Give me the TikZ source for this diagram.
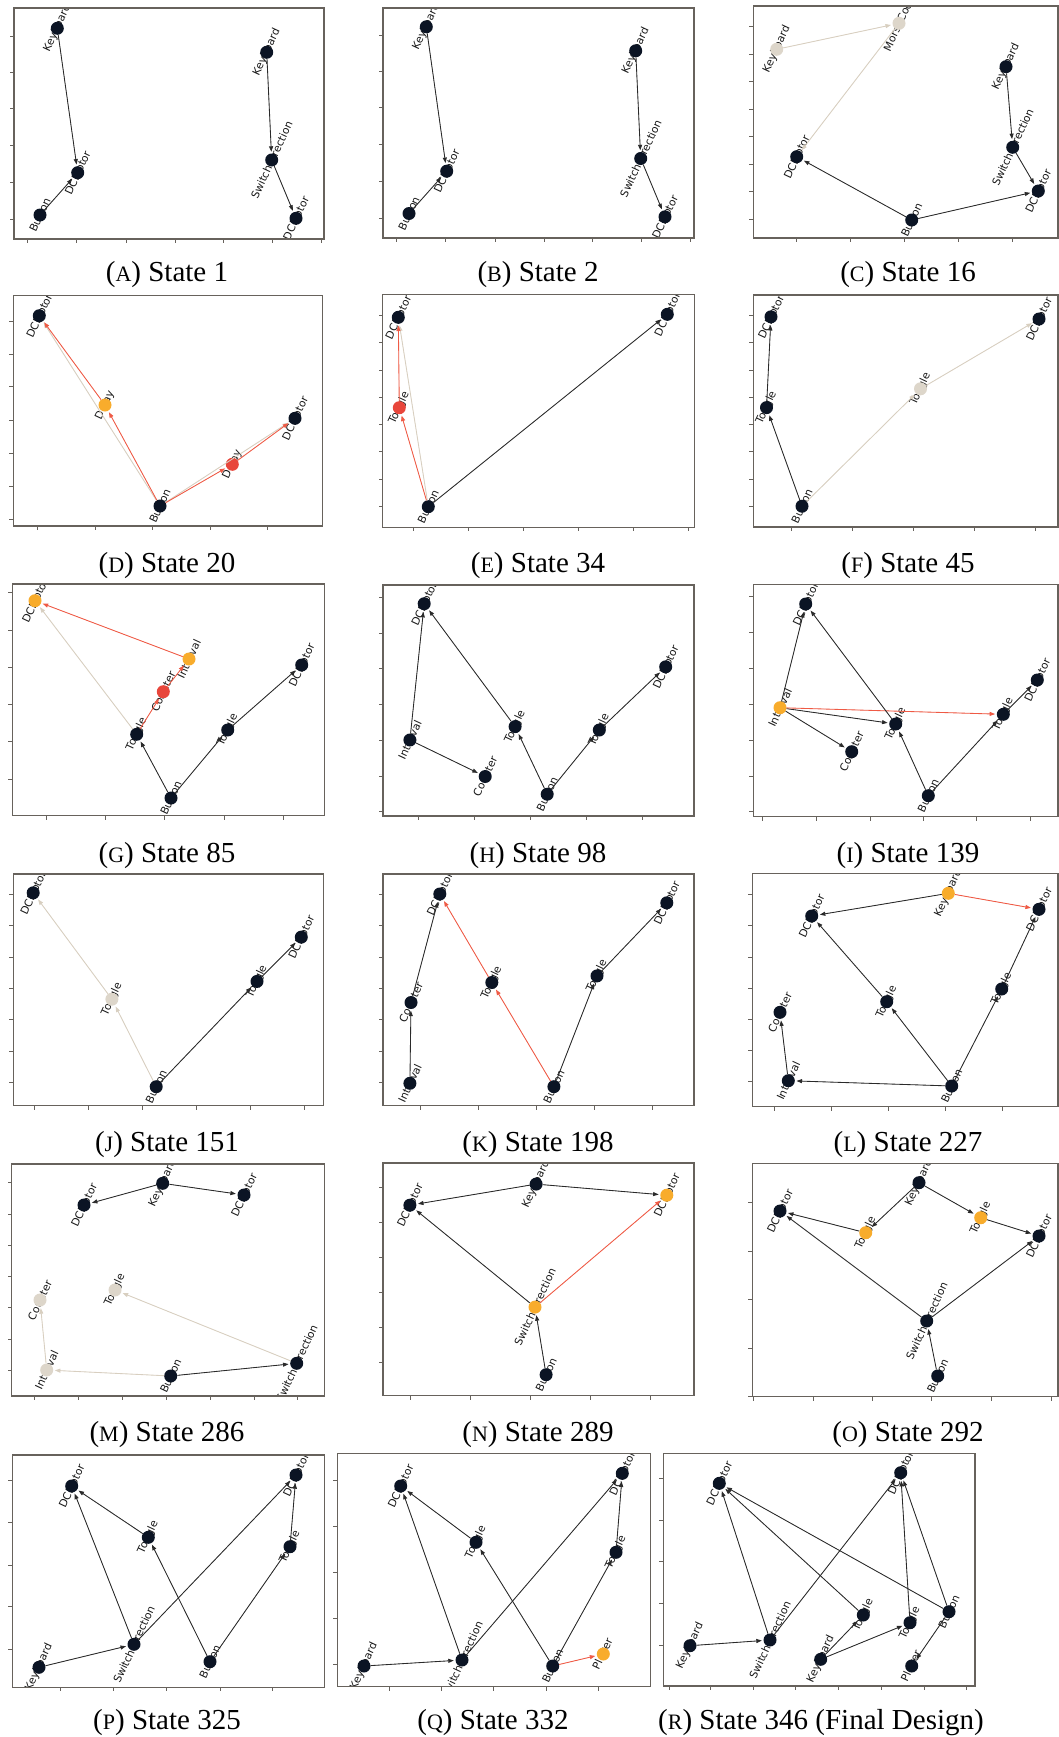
\documentclass[tikz,border=0pt]{standalone}
\usepackage{fontspec}
\newfontfamily\labfont{DejaVu Sans}
\newfontfamily\capfont{Liberation Serif}
\usetikzlibrary{arrows.meta}
\definecolor{nblk}{HTML}{0B1424}
\definecolor{norg}{HTML}{F8AC2C}
\definecolor{nred}{HTML}{E8463B}
\definecolor{nfad}{HTML}{DDD6CA}
\definecolor{eblk}{HTML}{2A2A2A}
\definecolor{ered}{HTML}{EF5A45}
\definecolor{efad}{HTML}{D8CFC0}
\definecolor{frmc}{HTML}{67625C}
\tikzset{
  lab/.style={font=\labfont\fontsize{10.7}{10.7}\selectfont, text=black!90, rotate=65, inner sep=0pt, anchor=center},
  dotnode/.style={circle, minimum size=13pt, inner sep=0pt, draw=none},
  nb/.style={dotnode, fill=nblk},
  no/.style={dotnode, fill=norg},
  nr/.style={dotnode, fill=nred},
  nf/.style={dotnode, fill=nfad},
  edg/.style={line width=0.85pt, shorten >=1.5pt, -{Triangle[length=5.5pt,width=4pt]}},
  eb/.style={edg, draw=eblk, fill=eblk},
  er/.style={edg, draw=ered, fill=ered},
  ef/.style={edg, draw=efad, fill=efad},
  frm/.style={draw=frmc, line width=1.2pt},
  tck/.style={draw=frmc, line width=0.9pt},
  captxt/.style={font=\capfont\fontsize{29}{29}\selectfont, anchor=base, inner sep=0pt}
}
\newcommand\gn[5]{\node[lab] (#1-l) at (#2,#3) {#5};\node[#4] (#1) at (#2,#3) {};}
\newcommand\frameticks[6]{%
  \draw[frm] (#1,#2) rectangle (#3,#4);
  \foreach \yy in {#5} {\draw[tck] (#1,\yy) -- ++(-4,0);}
  \foreach \xx in {#6} {\draw[tck] (\xx,#4) -- ++(0,4);}
}
\newcommand\sca[1]{{\fontsize{22}{22}\selectfont #1}}
\begin{document}
\begin{tikzpicture}[x=1pt,y=-1pt]
\useasboundingbox[fill=white] (0,0) rectangle (1059,1737);

% ---------------- A
\begin{scope}\clip (14,8) rectangle (324,239);
\gn{A1}{57.3}{28.3}{nb}{Keyboard}
\gn{A2}{77.7}{172.7}{nb}{DCMotor}
\gn{A3}{40}{215}{nb}{Button}
\gn{A4}{266.7}{52.3}{nb}{Keyboard}
\gn{A5}{271.7}{160}{nb}{SwitchDirection}
\gn{A6}{296}{218.3}{nb}{DCMotor}
\draw[eb] (A1) -- (A2);
\draw[eb] (A3) -- (A2);
\draw[eb] (A4) -- (A5);
\draw[eb] (A5) -- (A6);
\end{scope}
\frameticks{14}{8}{324}{239}{36.7,72.7,108.7,145.7,182.3,219.3}{27.7,76.7,126,175,223.3,272.7,321.7}
\node[captxt] (capA) at (167,281) {(\sca{A}) State 1};

% ---------------- B
\begin{scope}\clip (383,8) rectangle (694,238);
\gn{B1}{426.3}{26.8}{nb}{Keyboard}
\gn{B2}{446.7}{171.2}{nb}{DCMotor}
\gn{B3}{409}{213.5}{nb}{Button}
\gn{B4}{635.7}{50.8}{nb}{Keyboard}
\gn{B5}{640.7}{158.5}{nb}{SwitchDirection}
\gn{B6}{665}{216.8}{nb}{DCMotor}
\draw[eb] (B1) -- (B2);
\draw[eb] (B3) -- (B2);
\draw[eb] (B4) -- (B5);
\draw[eb] (B5) -- (B6);
\end{scope}
\frameticks{383}{8}{694}{238}{35.7,71.7,107.7,144.7,181.3,218.3}{396.7,445.7,495,544,592.3,641.7,690.7}
\node[captxt] (capB) at (538,281) {(\sca{B}) State 2};

% ---------------- C
\begin{scope}\clip (753.3,6) rectangle (1058,238);
\gn{C1}{776.7}{49.3}{nf}{Keyboard}
\gn{C2}{899}{23.3}{nf}{MorseCode}
\gn{C3}{796.7}{156.7}{nb}{DCMotor}
\gn{C4}{1006}{66.7}{nb}{Keyboard}
\gn{C5}{1012.7}{147.3}{nb}{SwitchDirection}
\gn{C6}{1038.3}{191}{nb}{DCMotor}
\gn{C7}{911.7}{220}{nb}{Button}
\draw[ef] (C1) -- (C2);
\draw[ef] (C2) -- (C3);
\draw[eb] (C7) -- (C3);
\draw[eb] (C7) -- (C6);
\draw[eb] (C4) -- (C5);
\draw[eb] (C5) -- (C6);
\end{scope}
\frameticks{753.3}{6}{1058}{238}{26.7,54.3,81.7,109.3,136.7,164,191.7,219.3}{796,850,904,958.3,1012.7}
\node[captxt] (capC) at (908,281) {(\sca{C}) State 16};

% ---------------- D
\begin{scope}\clip (13.3,295.7) rectangle (322.7,526);
\gn{D1}{39.3}{315.7}{nb}{DCMotor}
\gn{D2}{105}{405}{no}{Delay}
\gn{D3}{160}{506}{nb}{Button}
\gn{D4}{232.3}{464.3}{nr}{Delay}
\gn{D5}{295}{418.3}{nb}{DCMotor}
\draw[ef] (D3) -- (D1);
\draw[ef] (D3) -- (D5);
\draw[er] (D3) -- (D2);
\draw[er] (D2) -- (D1);
\draw[er] (D3) -- (D4);
\draw[er] (D4) -- (D5);
\end{scope}
\frameticks{13.3}{295.7}{322.7}{526}{321,354,386.7,420,453.3,486,519.3}{37.3,95,152.7,210,267.3}
\node[captxt] (capD) at (167,572) {(\sca{D}) State 20};

% ---------------- E
\begin{scope}\clip (382.7,294.3) rectangle (694.3,527.3);
\gn{E1}{398.3}{317.3}{nb}{DCMotor}
\gn{E2}{399.3}{407.7}{nr}{Toggle}
\gn{E3}{428.3}{506.7}{nb}{Button}
\gn{E4}{667.3}{314.3}{nb}{DCMotor}
\draw[ef] (E3) -- (E1);
\draw[er] (E3) -- (E2);
\draw[er] (E2) -- (E1);
\draw[eb] (E3) -- (E4);
\end{scope}
\frameticks{382.7}{294.3}{694.3}{527.3}{315.7,342.7,370,397.3,424.3,451.7,479,506}{413.3,468.3,523.3,578.3,633.3,688.3}
\node[captxt] (capE) at (538,572) {(\sca{E}) State 34};

% ---------------- F
\begin{scope}\clip (753.3,295) rectangle (1058,527);
\gn{F1}{771}{316.8}{nb}{DCMotor}
\gn{F2}{766.5}{407.6}{nb}{Toggle}
\gn{F3}{802}{506.2}{nb}{Button}
\gn{F4}{920.5}{388.8}{nf}{Toggle}
\gn{F5}{1039}{319}{nb}{DCMotor}
\draw[ef] (F3) -- (F4);
\draw[ef] (F4) -- (F5);
\draw[eb] (F3) -- (F2);
\draw[eb] (F2) -- (F1);
\end{scope}
\frameticks{753.3}{295}{1058}{527}{315.7,342.7,370,397.3,424.3,451.7,479,506}{791,852,913,974,1035}
\node[captxt] (capF) at (908,572) {(\sca{F}) State 45};

% ---------------- G
\begin{scope}\clip (12.3,584) rectangle (324.3,815.7);
\gn{G1}{35}{600.7}{no}{DCMotor}
\gn{G2}{189}{659}{no}{Interval}
\gn{G3}{163.3}{691.7}{nr}{Counter}
\gn{G4}{136.7}{734.3}{nb}{Toggle}
\gn{G5}{171}{798}{nb}{Button}
\gn{G6}{227.7}{730}{nb}{Toggle}
\gn{G7}{301.7}{665}{nb}{DCMotor}
\draw[ef] (G4) -- (G1);
\draw[er] (G4) -- (G3);
\draw[er] (G3) -- (G2);
\draw[er] (G2) -- (G1);
\draw[eb] (G5) -- (G4);
\draw[eb] (G5) -- (G6);
\draw[eb] (G6) -- (G7);
\end{scope}
\frameticks{12.3}{584}{324.3}{815.7}{592.7,630,667.3,704.3,741.7,779}{46,105.3,164.7,224.3,283.3}
\node[captxt] (capG) at (167,862) {(\sca{G}) State 85};

% ---------------- H
\begin{scope}\clip (383,585) rectangle (694,816);
\gn{H1}{424.2}{603.7}{nb}{DCMotor}
\gn{H2}{409.9}{740}{nb}{Interval}
\gn{H3}{485.2}{776.5}{nb}{Counter}
\gn{H4}{515.1}{726.6}{nb}{Toggle}
\gn{H5}{547.2}{794.2}{nb}{Button}
\gn{H6}{599.3}{730}{nb}{Toggle}
\gn{H7}{665.7}{666.8}{nb}{DCMotor}
\draw[eb] (H2) -- (H1);
\draw[eb] (H2) -- (H3);
\draw[eb] (H4) -- (H1);
\draw[eb] (H5) -- (H4);
\draw[eb] (H5) -- (H6);
\draw[eb] (H6) -- (H7);
\end{scope}
\frameticks{383}{585}{694}{816}{597,633,668,704,740,776,811}{418,474,530,586,642}
\node[captxt] (capH) at (538,862) {(\sca{H}) State 98};

% ---------------- I
\begin{scope}\clip (753.3,584.3) rectangle (1058,816.7);
\gn{I1}{805.7}{604}{nb}{DCMotor}
\gn{I2}{780}{707.7}{no}{Interval}
\gn{I3}{851.7}{751.7}{nb}{Counter}
\gn{I4}{895.7}{724}{nb}{Toggle}
\gn{I5}{928.3}{795.7}{nb}{Button}
\gn{I6}{1003.3}{714.3}{nb}{Toggle}
\gn{I7}{1037.3}{680}{nb}{DCMotor}
\draw[eb] (I2) -- (I1);
\draw[eb] (I2) -- (I3);
\draw[eb] (I2) -- (I4);
\draw[er] (I2) -- (I6);
\draw[eb] (I4) -- (I1);
\draw[eb] (I5) -- (I4);
\draw[eb] (I5) -- (I6);
\draw[eb] (I6) -- (I7);
\end{scope}
\frameticks{753.3}{584.3}{1058}{816.7}{596.7,632.3,668.3,704.3,740.3,776,811.7}{762.7,816.7,870,923.3,976.7,1030.7}
\node[captxt] (capI) at (908,862) {(\sca{I}) State 139};

% ---------------- J
\begin{scope}\clip (13.3,874) rectangle (323.4,1105.5);
\gn{J1}{33.2}{892.8}{nb}{DCMotor}
\gn{J2}{111.9}{999.2}{nf}{Toggle}
\gn{J3}{156.2}{1086.7}{nb}{Button}
\gn{J4}{257}{981.4}{nb}{Toggle}
\gn{J5}{301.3}{937.1}{nb}{DCMotor}
\draw[ef] (J3) -- (J2);
\draw[ef] (J2) -- (J1);
\draw[eb] (J3) -- (J4);
\draw[eb] (J4) -- (J5);
\end{scope}
\frameticks{13.3}{874}{323.4}{1105.5}{894,925,957,988,1019,1051,1082}{34,88,142,196,250,304}
\node[captxt] (capJ) at (167,1151) {(\sca{J}) State 151};

% ---------------- K
\begin{scope}\clip (383,874) rectangle (694,1105.5);
\gn{K1}{439.8}{894}{nb}{DCMotor}
\gn{K2}{411}{1002.5}{nb}{Counter}
\gn{K3}{409.9}{1083.3}{nb}{Interval}
\gn{K4}{491.8}{982.5}{nb}{Toggle}
\gn{K5}{553.9}{1086.7}{nb}{Button}
\gn{K6}{597}{975.9}{nb}{Toggle}
\gn{K7}{666.8}{902.8}{nb}{DCMotor}
\draw[eb] (K3) -- (K2);
\draw[eb] (K2) -- (K1);
\draw[er] (K5) -- (K4);
\draw[er] (K4) -- (K1);
\draw[eb] (K5) -- (K6);
\draw[eb] (K6) -- (K7);
\end{scope}
\frameticks{383}{874}{694}{1105.5}{894,925,957,988,1019,1051,1082}{420,478,536,594,652}
\node[captxt] (capK) at (538,1151) {(\sca{K}) State 198};

% ---------------- L
\begin{scope}\clip (752.3,873.3) rectangle (1058,1106.7);
\gn{L1}{948.3}{893.3}{no}{Keyboard}
\gn{L2}{811.7}{916}{nb}{DCMotor}
\gn{L3}{1039}{909.3}{nb}{DCMotor}
\gn{L4}{886.7}{1001.7}{nb}{Toggle}
\gn{L5}{1001.7}{989}{nb}{Toggle}
\gn{L6}{780}{1012.3}{nb}{Counter}
\gn{L7}{788.3}{1080.7}{nb}{Interval}
\gn{L8}{951.7}{1086}{nb}{Button}
\draw[eb] (L1) -- (L2);
\draw[er] (L1) -- (L3);
\draw[eb] (L4) -- (L2);
\draw[eb] (L8) -- (L4);
\draw[eb] (L8) -- (L5);
\draw[eb] (L5) -- (L3);
\draw[eb] (L8) -- (L7);
\draw[eb] (L7) -- (L6);
\end{scope}
\frameticks{752.3}{873.3}{1058}{1106.7}{894.3,925.7,957.3,988.3,1019.3,1050.7,1081.7}{774,831,888.3,945.7,1002.7}
\node[captxt] (capL) at (908,1151) {(\sca{L}) State 227};

% ---------------- M
\begin{scope}\clip (11.7,1164) rectangle (324.3,1396);
\gn{M1}{162.7}{1183.3}{nb}{Keyboard}
\gn{M2}{84}{1205}{nb}{DCMotor}
\gn{M3}{244}{1195}{nb}{DCMotor}
\gn{M4}{40}{1300}{nf}{Counter}
\gn{M5}{115}{1290}{nf}{Toggle}
\gn{M6}{46.7}{1370}{nf}{Interval}
\gn{M7}{170.7}{1376}{nb}{Button}
\gn{M8}{296.7}{1363.3}{nb}{SwitchDirection}
\draw[ef] (M7) -- (M6);
\draw[ef] (M6) -- (M4);
\draw[ef] (M8) -- (M5);
\draw[eb] (M1) -- (M2);
\draw[eb] (M1) -- (M3);
\draw[eb] (M7) -- (M8);
\end{scope}
\frameticks{11.7}{1164}{324.3}{1396}{1182.7,1214,1245,1276,1307.3,1339.3,1370.7}{34,78.3,122.3,166,210,254,297.7}
\node[captxt] (capM) at (167,1441) {(\sca{M}) State 286};

% ---------------- N
\begin{scope}\clip (383,1163) rectangle (694,1395.7);
\gn{N1}{409.9}{1205.2}{nb}{DCMotor}
\gn{N2}{536.1}{1184.1}{nb}{Keyboard}
\gn{N3}{666.8}{1195.2}{no}{DCMotor}
\gn{N4}{535}{1307.1}{no}{SwitchDirection}
\gn{N5}{546.1}{1374.7}{nb}{Button}
\draw[eb] (N2) -- (N1);
\draw[eb] (N2) -- (N3);
\draw[eb] (N4) -- (N1);
\draw[er] (N4) -- (N3);
\draw[eb] (N5) -- (N4);
\end{scope}
\frameticks{383}{1163}{694}{1395.7}{1187,1222,1257,1292,1327,1362}{410,470,530,590,650}
\node[captxt] (capN) at (538,1441) {(\sca{N}) State 289};

% ---------------- O
\begin{scope}\clip (752.3,1163.3) rectangle (1058,1396.7);
\gn{O1}{919}{1182.7}{nb}{Keyboard}
\gn{O2}{780}{1211}{nb}{DCMotor}
\gn{O3}{865.7}{1232.7}{no}{Toggle}
\gn{O4}{980.7}{1217.7}{no}{Toggle}
\gn{O5}{1039}{1236}{nb}{DCMotor}
\gn{O6}{926.7}{1321}{nb}{SwitchDirection}
\gn{O7}{937.7}{1376}{nb}{Button}
\draw[eb] (O1) -- (O3);
\draw[eb] (O1) -- (O4);
\draw[eb] (O3) -- (O2);
\draw[eb] (O4) -- (O5);
\draw[eb] (O6) -- (O2);
\draw[eb] (O6) -- (O5);
\draw[eb] (O7) -- (O6);
\end{scope}
\frameticks{752.3}{1163.3}{1058}{1396.7}{1202.3,1251,1299.3,1348.3,1396.7}{753.3,813.3,872.3,931.7,991.7,1051}
\node[captxt] (capO) at (908,1441) {(\sca{O}) State 292};

% ---------------- P
\begin{scope}\clip (12.3,1455) rectangle (324.3,1687.3);
\gn{P1}{71.7}{1486}{nb}{DCMotor}
\gn{P2}{148.3}{1537.3}{nb}{Toggle}
\gn{P3}{296}{1475}{nb}{DCMotor}
\gn{P4}{290}{1546.7}{nb}{Toggle}
\gn{P5}{39}{1667.3}{nb}{Keyboard}
\gn{P6}{134}{1644.3}{nb}{SwitchDirection}
\gn{P7}{210}{1661.7}{nb}{Button}
\draw[eb] (P5) -- (P6);
\draw[eb] (P6) -- (P1);
\draw[eb] (P6) -- (P3);
\draw[eb] (P2) -- (P1);
\draw[eb] (P7) -- (P2);
\draw[eb] (P7) -- (P4);
\draw[eb] (P4) -- (P3);
\end{scope}
\frameticks{12.3}{1455}{324.3}{1687.3}{1480.7,1522.7,1565,1606.7,1649}{60,113.3,166.7,220,272.7}
\node[captxt] (capP) at (167,1729) {(\sca{P}) State 325};

% ---------------- Q
\begin{scope}\clip (337.3,1453.3) rectangle (650.7,1686.7);
\gn{Q1}{400.7}{1486}{nb}{DCMotor}
\gn{Q2}{476}{1542.3}{nb}{Toggle}
\gn{Q3}{622.3}{1473.3}{nb}{DCMotor}
\gn{Q4}{616}{1552.3}{nb}{Toggle}
\gn{Q5}{364}{1666}{nb}{Keyboard}
\gn{Q6}{462}{1660}{nb}{SwitchDirection}
\gn{Q7}{552.7}{1666}{nb}{Button}
\gn{Q8}{603.3}{1654}{no}{Player}
\draw[eb] (Q5) -- (Q6);
\draw[eb] (Q6) -- (Q1);
\draw[eb] (Q6) -- (Q3);
\draw[eb] (Q2) -- (Q1);
\draw[eb] (Q7) -- (Q2);
\draw[eb] (Q7) -- (Q4);
\draw[eb] (Q4) -- (Q3);
\draw[er] (Q7) -- (Q8);
\end{scope}
\frameticks{337.3}{1453.3}{650.7}{1686.7}{1480,1526,1572.3,1618.3,1664.3}{389.3,441,493.3,546,598.3}
\node[captxt] (capQ) at (493,1729) {(\sca{Q}) State 332};

% ---------------- R
\begin{scope}\clip (663.3,1453.3) rectangle (975,1686);
\gn{R1}{719.3}{1483.3}{nb}{DCMotor}
\gn{R2}{900.7}{1472.7}{nb}{DCMotor}
\gn{R3}{690}{1645.7}{nb}{Keyboard}
\gn{R4}{770}{1640}{nb}{SwitchDirection}
\gn{R5}{820.7}{1659.3}{nb}{Keyboard}
\gn{R6}{863.3}{1615}{nb}{Toggle}
\gn{R7}{910}{1622.7}{nb}{Toggle}
\gn{R8}{949}{1611.7}{nb}{Button}
\gn{R9}{911.7}{1666}{nb}{Player}
\draw[eb] (R3) -- (R4);
\draw[eb] (R4) -- (R1);
\draw[eb] (R4) -- (R2);
\draw[eb] (R6) -- (R1);
\draw[eb] (R8) -- (R1);
\draw[eb] (R5) -- (R6);
\draw[eb] (R5) -- (R7);
\draw[eb] (R7) -- (R2);
\draw[eb] (R8) -- (R2);
\draw[eb] (R8) -- (R9);
\end{scope}
\frameticks{663.3}{1453.3}{975}{1686}{1478.3,1520,1561.7,1603.3,1645}{669,710.7,753.3,795.7,838.3,881,924,966}
\node[captxt] (capR) at (821,1729) {(\sca{R}) State 346 (Final Design)};

\end{tikzpicture}
\end{document}
